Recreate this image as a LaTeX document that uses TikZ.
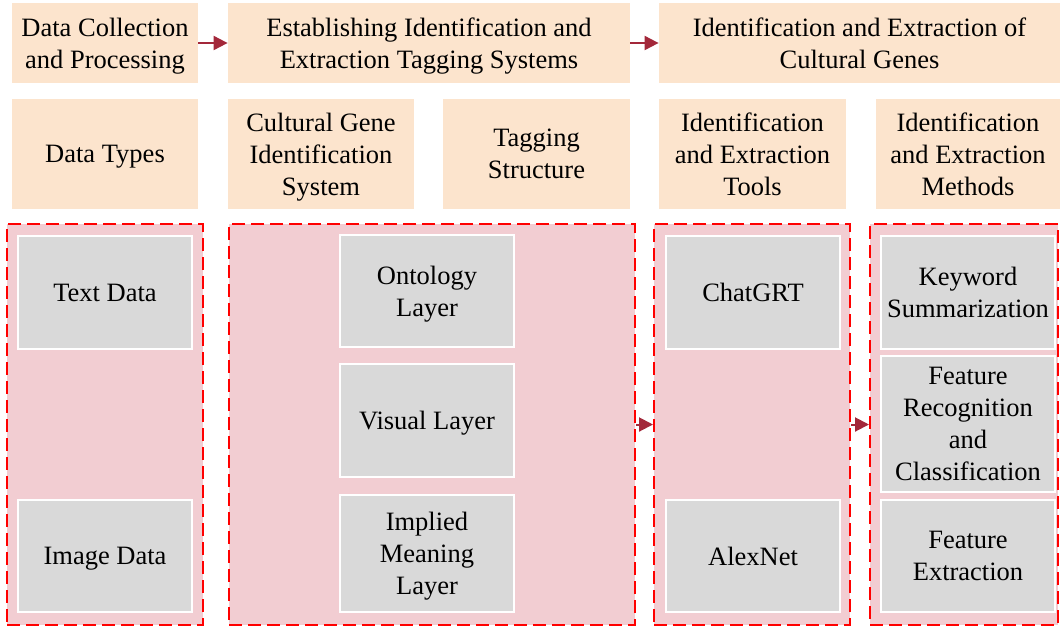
\documentclass[tikz,border=0pt]{standalone}
\usepackage{fontspec}
\setmainfont{Liberation Serif}
\usepackage{xcolor}
\usetikzlibrary{arrows.meta,positioning}
\definecolor{peach}{HTML}{FCE4CD}
\definecolor{pinkbg}{HTML}{F2CDD2}
\definecolor{grayitem}{HTML}{D9D9D9}
\definecolor{arrowred}{HTML}{A3283A}
\tikzset{
    basenode/.style={align=center, inner sep=0pt, font=\fontsize{13.25}{16}\selectfont, text depth=0pt},
    headnode/.style={basenode, fill=peach, minimum height=40pt},
    subnode/.style={basenode, fill=peach, minimum height=55pt},
    groupbox/.style={draw=red, fill=pinkbg, dashed, dash pattern=on 6.5pt off 3pt, line width=1pt, minimum height=200.5pt},
    itemnode/.style={basenode, draw=white, line width=0.6pt, fill=grayitem, minimum width=87pt},
    flowarrow/.style={-{Triangle[length=7pt,width=7pt]}, line width=1pt, arrowred}
}
\begin{document}
\begin{tikzpicture}[x=0.5pt, y=-0.5pt]
        \useasboundingbox (0,0) rectangle (1060,628);

        % top row
        \node[headnode, minimum width=93pt] (dcp) at (105,43) {Data Collection\\and Processing};
        \node[headnode, minimum width=201pt] (est) at (429,43) {Establishing Identification and\\Extraction Tagging Systems};
        \node[headnode, minimum width=200.5pt] (ide) at (859.5,43) {Identification and Extraction of\\Cultural Genes};

        % second row
        \node[subnode, minimum width=93pt] (types) at (105,154) {Data Types};
        \node[subnode, minimum width=93pt] (system) at (321,154) {Cultural Gene\\Identification\\System};
        \node[subnode, minimum width=93.5pt] (tagging) at (536.5,154) {Tagging\\Structure};
        \node[subnode, minimum width=93.5pt] (tools) at (752.5,154) {Identification\\and Extraction\\Tools};
        \node[subnode, minimum width=92pt] (methods) at (968,154) {Identification\\and Extraction\\Methods};

        % dashed groups
        \node[groupbox, minimum width=98pt] (grpdata) at (105,424.5) {};
        \node[groupbox, minimum width=203pt] (grptag) at (432,424.5) {};
        \node[groupbox, minimum width=98pt] (grptool) at (752,424.5) {};
        \node[groupbox, minimum width=94pt] (grpmeth) at (964,424.5) {};

        % items
        \node[itemnode, minimum height=56.5pt] (textd) at (105,292.5) {Text Data};
        \node[itemnode, minimum height=56pt] (imaged) at (105,556) {Image Data};

        \node[itemnode, minimum height=56pt] (ontology) at (427,291) {Ontology\\Layer};
        \node[itemnode, minimum height=56.5pt] (visual) at (427,420.5) {Visual Layer};
        \node[itemnode, minimum height=58.5pt] (implied) at (427,553.5) {Implied\\Meaning\\Layer};

        \node[itemnode, minimum height=56.5pt] (chatgrt) at (753,292.5) {ChatGRT};
        \node[itemnode, minimum height=56pt] (alexnet) at (753,556) {AlexNet};

        \node[itemnode, minimum height=56.5pt] (keyword) at (968,292.5) {Keyword\\Summarization};
        \node[itemnode, minimum height=68pt] (recog) at (968,424) {Feature\\Recognition\\and\\Classification};
        \node[itemnode, minimum height=56pt] (extract) at (968,556) {Feature\\Extraction};

        % arrows
        \draw[flowarrow] (dcp.east) -- (est.west);
        \draw[flowarrow] (est.east) -- (ide.west);
        \draw[flowarrow] (grptag.east) -- (grptool.west);
        \draw[flowarrow] (grptool.east) -- (grpmeth.west);
    \end{tikzpicture}
\end{document}
